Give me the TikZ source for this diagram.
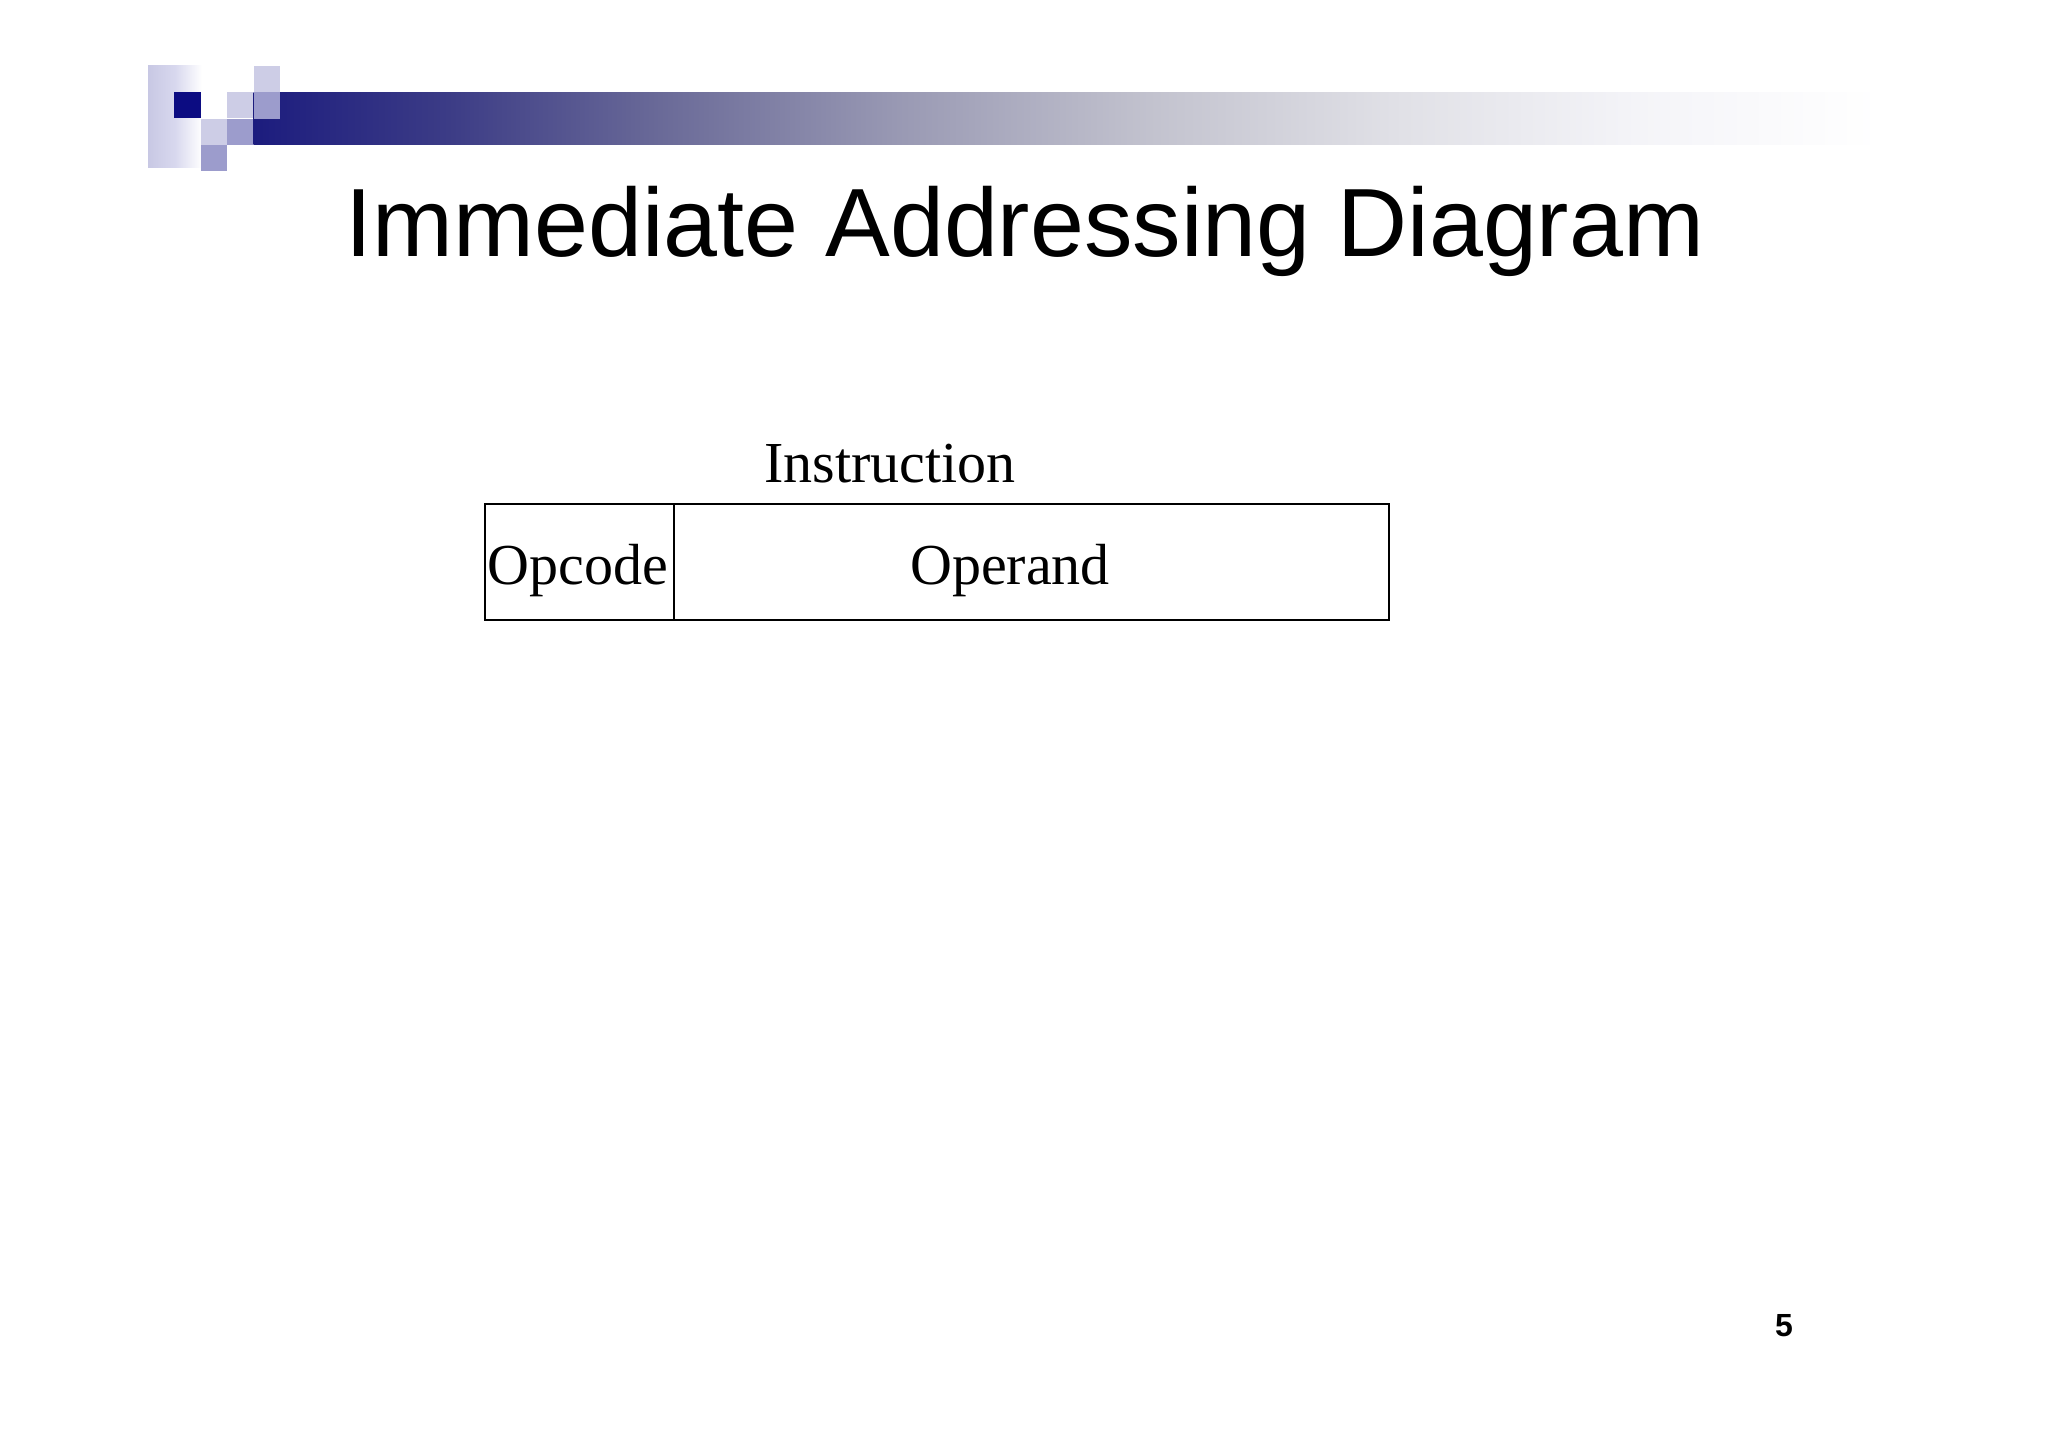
\documentclass[tikz,border=0pt]{standalone}
\usepackage{fontspec}
\setmainfont{Liberation Serif}
\newfontfamily\titlefont{Liberation Sans}
\definecolor{navy}{HTML}{0C0C82}
\definecolor{lightlav}{HTML}{CDCDE6}
\definecolor{medlav}{HTML}{9C9CCC}
\definecolor{bA}{HTML}{1C1C7E}
\definecolor{bB}{HTML}{3C3C86}
\definecolor{bC}{HTML}{6A6A98}
\definecolor{bD}{HTML}{9A9AB4}
\definecolor{bE}{HTML}{C2C2CE}
\definecolor{bF}{HTML}{E0E0E6}
\definecolor{bG}{HTML}{F4F4F8}
\definecolor{fA}{HTML}{C8C8E4}
\definecolor{fB}{HTML}{D8D8EE}
\pgfdeclarehorizontalshading{barshade}{100bp}{
  color(0bp)=(bA); color(25bp)=(bA); color(31bp)=(bB); color(37.5bp)=(bC);
  color(45bp)=(bD); color(52.5bp)=(bE); color(60bp)=(bF);
  color(67.5bp)=(bG); color(75bp)=(white); color(100bp)=(white)}
\pgfdeclarehorizontalshading{fadeshade}{100bp}{
  color(0bp)=(fA); color(25bp)=(fA); color(50bp)=(fB); color(75bp)=(white); color(100bp)=(white)}
\tikzset{
  sq/.style={draw=none, inner sep=0pt, outer sep=0pt, minimum width=26.5pt, minimum height=26.5pt, anchor=north west},
  field/.style={draw=black, line width=2pt, inner sep=0pt, outer sep=0pt, minimum height=116pt, anchor=north west},
  lbl/.style={inner sep=0pt, anchor=base, font=\fontsize{58}{60}\selectfont}
}
\begin{document}
\begin{tikzpicture}[x=1pt,y=-1pt]
\useasboundingbox[fill=white] (0,0) rectangle (2048,1447);
% logo
\shade[shading=fadeshade] (148,66) rectangle (202,168);
\node[sq, fill=navy] (s1) at (174,92) {};
\node[sq, fill=lightlav] (s2) at (253.5,66) {};
\node[sq, fill=lightlav] (s3) at (227,92) {};
\node[sq, fill=lightlav] (s4) at (200.5,119) {};
\node[sq, fill=medlav] (s5) at (227,119) {};
\node[sq, fill=medlav] (s6) at (200.5,145) {};
% bar
\shade[shading=barshade] (253.5,92.5) rectangle (1880,145);
\node[sq, fill=medlav] (s7) at (253.5,92.5) {};
% title
\node[inner sep=0pt, anchor=base, font=\titlefont\fontsize{97}{100}\selectfont] (title) at (1025,257) {Immediate Addressing Diagram};
% instruction
\node[lbl] (instr) at (890,482) {Instruction};
\node[field, minimum width=189.5pt] (opc) at (484.5,504) {};
\node[field, minimum width=715pt] (opd) at (opc.north east) {};
\node[lbl] (opctxt) at (578,584) {Opcode};
\node[lbl] (opdtxt) at (1010,584) {Operand};
% page number
\node[inner sep=0pt, anchor=base, font=\titlefont\bfseries\fontsize{32}{34}\selectfont] (pg) at (1784,1336) {5};
\end{tikzpicture}
\end{document}
